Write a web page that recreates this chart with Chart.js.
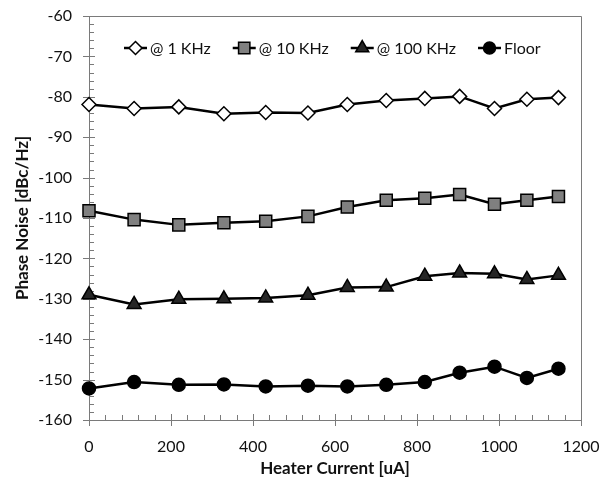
<!DOCTYPE html>
<html>
<head>
<meta charset="utf-8">
<script src="https://cdn.jsdelivr.net/npm/chart.js@4.4.0/dist/chart.umd.min.js"></script>
<style>
  html, body { margin: 0; padding: 0; background: #fff; }
  #wrap { width: 613px; height: 483px; }
</style>
</head>
<body>
<div id="wrap"><canvas id="noiseChart" width="613" height="483"></canvas></div>
<script>
// values
const heaterCurrent = [0, 110, 219, 329, 431, 534, 630, 725, 819, 904, 989, 1068, 1145];
const noise1k = [-81.9, -82.9, -82.5, -84.2, -83.9, -84.0, -81.9, -80.9, -80.4, -79.9, -82.9, -80.6, -80.2];
const noise10k = [-108.2, -110.4, -111.7, -111.2, -110.8, -109.6, -107.3, -105.6, -105.1, -104.2, -106.6, -105.6, -104.7];
const noise100k = [-129.0, -131.4, -130.1, -130.0, -129.8, -129.1, -127.2, -127.1, -124.4, -123.6, -123.8, -125.2, -124.2];
const noiseFloor = [-152.2, -150.6, -151.3, -151.2, -151.7, -151.5, -151.7, -151.3, -150.6, -148.3, -146.8, -149.6, -147.3];
const seriesLabels = ['@ 1 KHz', '@ 10 KHz', '@ 100 KHz', 'Floor'];
const xTickValues = [0, 200, 400, 600, 800, 1000, 1200];
const yTickValues = [-160, -150, -140, -130, -120, -110, -100, -90, -80, -70, -60];

const FONT = 'Lato, "Open Sans", sans-serif';
const AXIS_COLOR = '#7a7a7a';

const toPoints = (ys) => ys.map((y, i) => ({ x: heaterCurrent[i], y: y }));

// frame, major/minor tick marks (drawn inside/across the axes like Excel)
const axisDecor = {
    id: 'axisDecor',
    beforeDatasetsDraw(chart) {
        const { ctx, chartArea: a, scales: { x, y } } = chart;
        ctx.save();
        ctx.strokeStyle = AXIS_COLOR;
        ctx.lineWidth = 1;
        ctx.beginPath();
        ctx.moveTo(a.left, a.top + 0.5);
        ctx.lineTo(a.right + 0.5, a.top + 0.5);
        ctx.lineTo(a.right + 0.5, a.bottom);
        // y ticks
        for (let v = y.min; v <= y.max; v += 2) {
            const py = Math.round(y.getPixelForValue(v)) + 0.5;
            const major = v % 10 === 0;
            ctx.moveTo(a.left - (major ? 6 : 0), py);
            ctx.lineTo(a.left + (major ? 6 : 5), py);
        }
        // x ticks
        for (let v = x.min; v <= x.max; v += 40) {
            const px = Math.round(x.getPixelForValue(v)) + 0.5;
            const major = v % 200 === 0;
            ctx.moveTo(px, a.bottom + (major ? 6 : 0));
            ctx.lineTo(px, a.bottom - (major ? 6 : 5));
        }
        ctx.stroke();
        ctx.restore();
    },
    afterDraw(chart) {
        // legend sits inside the plot area, line + marker per entry
        const { ctx, chartArea: a } = chart;
        const cy = a.top + 32;
        let cx = a.left + 35;
        ctx.save();
        ctx.font = '16px ' + FONT;
        ctx.textBaseline = 'middle';
        chart.data.datasets.forEach((ds) => {
            ctx.strokeStyle = ds.borderColor;
            ctx.lineWidth = ds.borderWidth;
            ctx.beginPath();
            ctx.moveTo(cx, cy);
            ctx.lineTo(cx + 23, cy);
            ctx.stroke();
            ctx.fillStyle = ds.pointBackgroundColor;
            ctx.strokeStyle = ds.pointBorderColor;
            ctx.lineWidth = ds.pointBorderWidth;
            Chart.helpers.drawPoint(ctx, {
                pointStyle: ds.pointStyle,
                radius: ds.pointRadius - 0.5,
                rotation: 0,
                borderWidth: ds.pointBorderWidth
            }, cx + 11.5, cy);
            ctx.fillStyle = '#111';
            ctx.fillText(ds.label, cx + 26, cy + 1);
            cx += 26 + ctx.measureText(ds.label).width + 22;
        });
        ctx.restore();
    }
};

const makeSeries = (label, ys, style, fill, radius) => ({
    label: label,
    data: toPoints(ys),
    borderColor: '#000',
    borderWidth: 2.5,
    pointStyle: style,
    pointRadius: radius,
    pointBackgroundColor: fill,
    pointBorderColor: '#000',
    pointBorderWidth: 1.5,
    clip: false
});

new Chart(document.getElementById('noiseChart'), {
    type: 'line',
    data: {
        datasets: [
            makeSeries(seriesLabels[0], noise1k, 'rectRot', '#fff', 7),
            makeSeries(seriesLabels[1], noise10k, 'rect', '#808080', 8.5),
            makeSeries(seriesLabels[2], noise100k, 'triangle', '#262626', 8),
            makeSeries(seriesLabels[3], noiseFloor, 'circle', '#000', 6.5)
        ]
    },
    options: {
        responsive: false,
        animation: false,
        devicePixelRatio: 1,
        layout: { padding: { top: 16, right: 32, left: 0, bottom: 0 } },
        plugins: {
            legend: { display: false },
            tooltip: { enabled: false }
        },
        scales: {
            x: {
                type: 'linear',
                min: 0,
                max: 1200,
                afterBuildTicks: (s) => { s.ticks = xTickValues.map((v) => ({ value: v })); },
                afterFit: (s) => {
                    s.height = 63;
                    s.paddingLeft = 0;
                    s.paddingRight = 0;
                },
                grid: { display: false, drawTicks: false },
                border: { display: true, color: AXIS_COLOR, width: 1 },
                ticks: {
                    padding: 17,
                    color: '#111',
                    font: { family: FONT, size: 16 },
                    callback: (v) => String(v)
                },
                title: {
                    display: true,
                    text: 'Heater Current [uA]',
                    color: '#111',
                    font: { family: FONT, size: 17, weight: 'bold' },
                    padding: { top: 0, bottom: 4 }
                }
            },
            y: {
                min: -160,
                max: -60,
                afterBuildTicks: (s) => { s.ticks = yTickValues.map((v) => ({ value: v })); },
                afterFit: (s) => {
                    s.width = 89;
                    s.paddingTop = 0;
                    s.paddingBottom = 0;
                },
                grid: { display: false, drawTicks: false },
                border: { display: true, color: AXIS_COLOR, width: 1 },
                ticks: {
                    padding: 17,
                    color: '#111',
                    font: { family: FONT, size: 16 },
                    callback: (v) => String(v)
                },
                title: {
                    display: true,
                    text: 'Phase Noise [dBc/Hz]',
                    color: '#111',
                    font: { family: FONT, size: 17, weight: 'bold' },
                    padding: { top: 12, bottom: 0 }
                }
            }
        }
    },
    plugins: [axisDecor]
});
</script>
</body>
</html>
